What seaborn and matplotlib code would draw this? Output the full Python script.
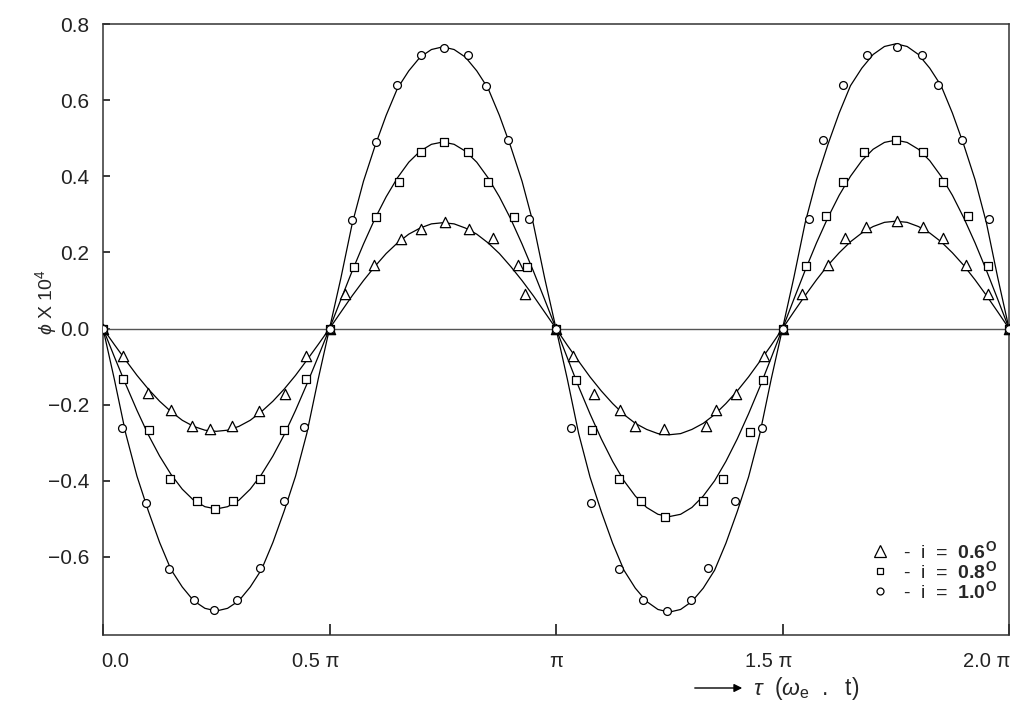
import numpy as np
import pandas as pd
import seaborn as sns
import matplotlib.pyplot as plt
import matplotlib.transforms as mtransforms
from matplotlib.lines import Line2D

# tau in units of pi
tau_line = np.round(np.arange(81) * 0.025, 3)

line_06 = [0, -0.042, -0.083, -0.123, -0.159, -0.191, -0.218, -0.241, -0.257, -0.267,
           -0.270, -0.267, -0.257, -0.241, -0.218, -0.191, -0.159, -0.123, -0.083, -0.042,
           0, 0.043, 0.086, 0.126, 0.163, 0.197, 0.225, 0.248, 0.264, 0.275,
           0.278, 0.275, 0.264, 0.248, 0.225, 0.197, 0.163, 0.126, 0.086, 0.043,
           0, -0.044, -0.086, -0.127, -0.164, -0.197, -0.226, -0.249, -0.265, -0.276,
           -0.279, -0.276, -0.265, -0.249, -0.226, -0.197, -0.164, -0.127, -0.086, -0.044,
           0, 0.044, 0.087, 0.128, 0.166, 0.199, 0.228, 0.251, 0.268, 0.279,
           0.282, 0.279, 0.268, 0.251, 0.228, 0.199, 0.166, 0.128, 0.087, 0.044, 0]
line_08 = [0, -0.074, -0.146, -0.215, -0.279, -0.335, -0.383, -0.422, -0.451, -0.468,
           -0.474, -0.468, -0.451, -0.422, -0.383, -0.335, -0.279, -0.215, -0.146, -0.074,
           0, 0.076, 0.151, 0.222, 0.288, 0.346, 0.396, 0.437, 0.466, 0.484,
           0.490, 0.484, 0.466, 0.437, 0.396, 0.346, 0.288, 0.222, 0.151, 0.076,
           0, -0.077, -0.153, -0.224, -0.290, -0.349, -0.400, -0.440, -0.470, -0.488,
           -0.494, -0.488, -0.470, -0.440, -0.400, -0.349, -0.290, -0.224, -0.153, -0.077,
           0, 0.077, 0.153, 0.225, 0.291, 0.350, 0.400, 0.441, 0.471, 0.489,
           0.495, 0.489, 0.471, 0.441, 0.400, 0.350, 0.291, 0.225, 0.153, 0.077, 0]
line_10 = [0, -0.133, -0.275, -0.388, -0.479, -0.562, -0.633, -0.679, -0.715, -0.735,
           -0.742, -0.735, -0.715, -0.679, -0.633, -0.562, -0.479, -0.388, -0.275, -0.133,
           0, 0.132, 0.275, 0.387, 0.478, 0.560, 0.631, 0.677, 0.713, 0.733,
           0.740, 0.733, 0.713, 0.677, 0.631, 0.560, 0.478, 0.387, 0.275, 0.132,
           0, -0.133, -0.276, -0.390, -0.481, -0.564, -0.635, -0.682, -0.717, -0.738,
           -0.745, -0.738, -0.717, -0.682, -0.635, -0.564, -0.481, -0.390, -0.276, -0.133,
           0, 0.134, 0.278, 0.391, 0.483, 0.566, 0.638, 0.684, 0.720, 0.741,
           0.748, 0.741, 0.720, 0.684, 0.638, 0.566, 0.483, 0.391, 0.278, 0.134, 0]

# plotted points
tau_06 = [0, 0.045, 0.100, 0.150, 0.196, 0.237, 0.285, 0.344, 0.401, 0.449, 0.5,
          0.535, 0.598, 0.657, 0.701, 0.754, 0.808, 0.860, 0.915, 0.931, 1.0,
          1.037, 1.084, 1.141, 1.174, 1.239, 1.330, 1.353, 1.397, 1.458, 1.5,
          1.544, 1.600, 1.637, 1.684, 1.752, 1.810, 1.855, 1.905, 1.953, 2.0]
phi_06 = [0, -0.073, -0.170, -0.214, -0.255, -0.265, -0.255, -0.216, -0.173, -0.073, 0,
          0.091, 0.166, 0.236, 0.262, 0.279, 0.262, 0.239, 0.166, 0.091, 0,
          -0.073, -0.172, -0.214, -0.256, -0.264, -0.256, -0.214, -0.172, -0.073, 0,
          0.091, 0.166, 0.239, 0.267, 0.282, 0.267, 0.239, 0.166, 0.091, 0]
tau_08 = [0, 0.045, 0.102, 0.148, 0.207, 0.248, 0.288, 0.347, 0.399, 0.447, 0.5,
          0.554, 0.602, 0.653, 0.701, 0.753, 0.805, 0.849, 0.908, 0.937, 1.0,
          1.044, 1.080, 1.139, 1.187, 1.241, 1.325, 1.369, 1.428, 1.456, 1.5,
          1.552, 1.597, 1.633, 1.679, 1.750, 1.810, 1.855, 1.909, 1.953, 2.0]
phi_08 = [0, -0.132, -0.267, -0.396, -0.452, -0.474, -0.452, -0.396, -0.267, -0.132, 0,
          0.161, 0.293, 0.385, 0.464, 0.490, 0.464, 0.385, 0.293, 0.161, 0,
          -0.135, -0.267, -0.396, -0.454, -0.494, -0.454, -0.396, -0.271, -0.135, 0,
          0.163, 0.295, 0.385, 0.464, 0.495, 0.464, 0.385, 0.295, 0.163, 0]
tau_10 = [0, 0.041, 0.095, 0.146, 0.200, 0.244, 0.296, 0.347, 0.399, 0.443, 0.5,
          0.550, 0.602, 0.648, 0.701, 0.753, 0.805, 0.845, 0.893, 0.941, 1.0,
          1.033, 1.077, 1.139, 1.192, 1.245, 1.298, 1.336, 1.395, 1.455, 1.5,
          1.558, 1.589, 1.634, 1.686, 1.752, 1.807, 1.844, 1.896, 1.956, 2.0]
phi_10 = [0, -0.261, -0.457, -0.632, -0.714, -0.740, -0.714, -0.628, -0.453, -0.258, 0,
          0.284, 0.490, 0.640, 0.718, 0.736, 0.718, 0.637, 0.495, 0.289, 0,
          -0.262, -0.457, -0.632, -0.714, -0.742, -0.714, -0.628, -0.454, -0.262, 0,
          0.289, 0.495, 0.640, 0.718, 0.740, 0.718, 0.640, 0.495, 0.289, 0]

series = ["0.6", "0.8", "1.0"]
x_ticks = [0, 0.5, 1.0, 1.5, 2.0]
x_ticklabels = ["0.0", "0.5 π", "π", "1.5 π", "2.0 π"]
y_ticks = [-0.6, -0.4, -0.2, 0.0, 0.2, 0.4, 0.6, 0.8]

sns.set_theme(style="ticks")
plt.rcParams["font.family"] = ["Liberation Sans", "DejaVu Sans"]
plt.rcParams["mathtext.fontset"] = "custom"
plt.rcParams["mathtext.rm"] = "Liberation Sans"
plt.rcParams["mathtext.it"] = "Liberation Sans:italic"
plt.rcParams["mathtext.bf"] = "Liberation Sans:bold"

lines_df = pd.DataFrame({
    "tau": np.tile(tau_line, 3),
    "phi": line_06 + line_08 + line_10,
    "i": np.repeat(series, len(tau_line)),
})
points_df = pd.DataFrame({
    "tau": tau_06 + tau_08 + tau_10,
    "phi": phi_06 + phi_08 + phi_10,
    "i": np.repeat(series, len(tau_06)),
})

fig = plt.figure(figsize=(10.29, 7.17), dpi=100)
ax = fig.add_axes([0.1001, 0.1144, 0.8805, 0.8521])

ax.axhline(0, color="#555555", lw=1.0, zorder=1)

sns.lineplot(data=lines_df, x="tau", y="phi", hue="i", palette=["black"] * 3,
             estimator=None, sort=False, lw=0.9, legend=False, ax=ax, zorder=2)

marker_style = {"0.6": ("^", 55), "0.8": ("s", 30), "1.0": ("o", 32)}
for key, (mk, size) in marker_style.items():
    sns.scatterplot(data=points_df[points_df["i"] == key], x="tau", y="phi",
                    marker=mk, s=size, facecolor="white", edgecolor="black",
                    linewidth=0.9, ax=ax, zorder=3, legend=False)

ax.set_xlim(0, 2.0)
ax.set_ylim(-0.805, 0.8)
ax.set_xticks(x_ticks)
ax.set_xticklabels(x_ticklabels)
ax.set_yticks(y_ticks)
ax.set_yticklabels([f"{v:.1f}".replace("-", "\u2212") for v in y_ticks])
ax.tick_params(axis="both", direction="in", colors="#222222")
ax.tick_params(axis="x", length=8, pad=12, labelsize=14.5)
ax.tick_params(axis="y", length=5, pad=10, labelsize=15)
ax.set_xlabel("")
ax.set_ylabel("")
for side in ["top", "right", "left", "bottom"]:
    ax.spines[side].set_visible(True)
    ax.spines[side].set_color("#333333")
    ax.spines[side].set_linewidth(1.1)

# x tick labels sit a little left of their ticks, as in the original print
shifts = [12, -14, 0, -14, -22]
for lab, dx in zip(ax.get_xticklabels(), shifts):
    lab.set_transform(lab.get_transform() +
                      mtransforms.ScaledTranslation(dx / 100, 0, fig.dpi_scale_trans))

handles = [
    Line2D([], [], ls="none", marker="^", ms=8, mfc="white", mec="black", mew=0.9),
    Line2D([], [], ls="none", marker="s", ms=5, mfc="white", mec="black", mew=0.9),
    Line2D([], [], ls="none", marker="o", ms=5, mfc="white", mec="black", mew=0.9),
]
labels = [r"-  i  =  $\mathbf{0.6^{O}}$", r"-  i  =  $\mathbf{0.8^{O}}$",
          r"-  i  =  $\mathbf{1.0^{O}}$"]
ax.legend(handles, labels, loc="lower right", bbox_to_anchor=(1.0, 0.035),
          frameon=False, fontsize=14, handlelength=1.0, handletextpad=0.7,
          labelspacing=-0.1, borderaxespad=0.2)

fig.text(46 / 1029, 1 - 302 / 717, r"$\phi$ X 10$^4$", rotation=90,
         ha="center", va="center", fontsize=14)

ax.annotate("", xy=(745 / 1029, 1 - 688 / 717), xytext=(692 / 1029, 1 - 688 / 717),
            xycoords="figure fraction", textcoords="figure fraction",
            arrowprops=dict(arrowstyle="-|>", color="black", lw=1.0, mutation_scale=12))
fig.text(753 / 1029, 1 - 688 / 717, r"$\tau\ \ (\omega_{\mathrm{e}}\ \ .\ \ \mathrm{t})$",
         ha="left", va="center", fontsize=16.5)

fig.savefig("out.png", dpi=100)
